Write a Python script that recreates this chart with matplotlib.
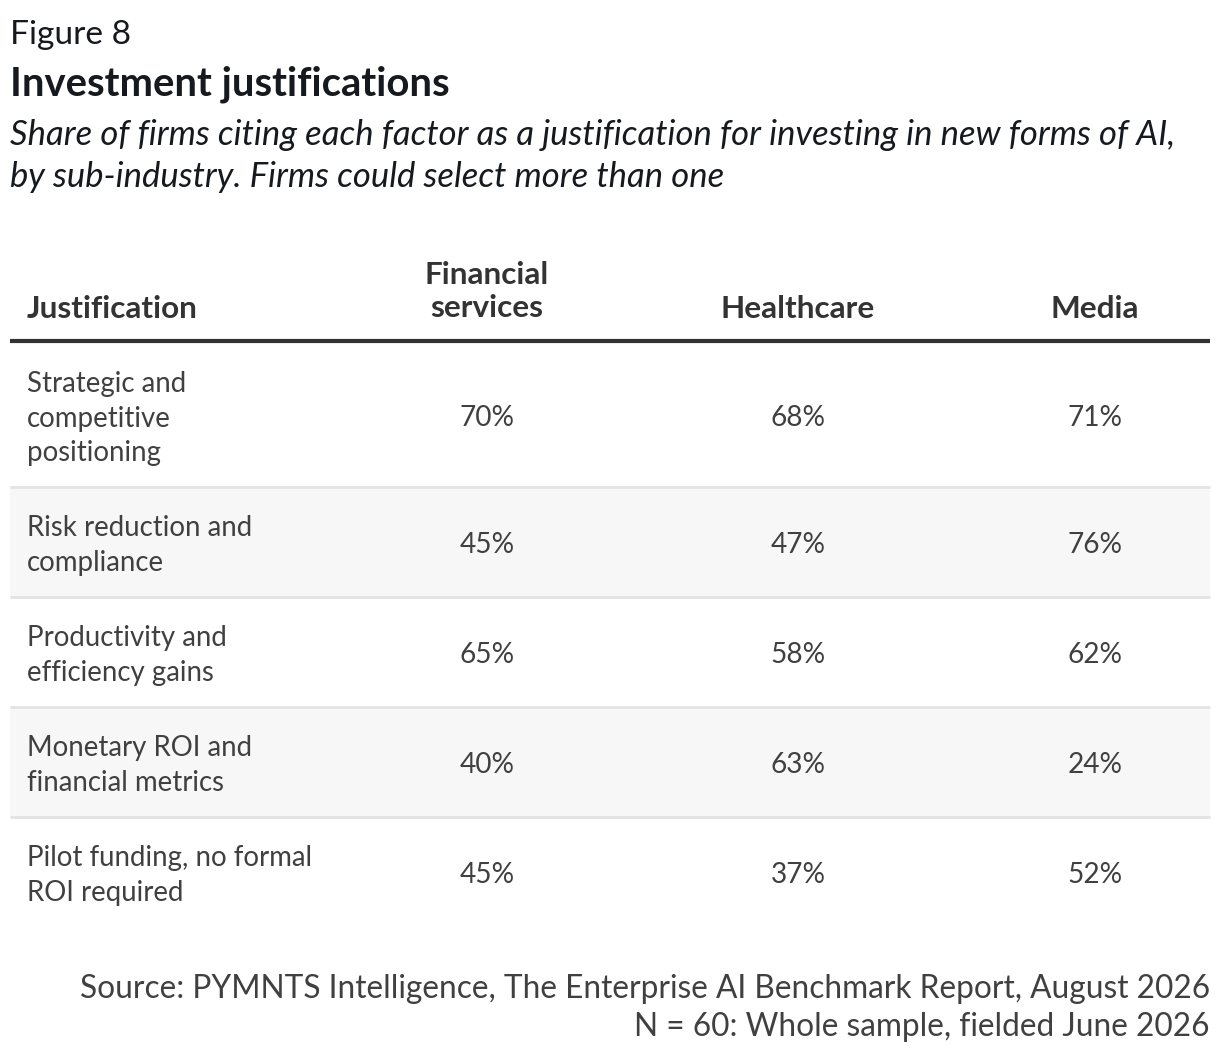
import matplotlib.pyplot as plt
from matplotlib.patches import Rectangle

plt.rcParams['font.family'] = ['Lato', 'DejaVu Sans']

# table content
columns = ["Financial\nservices", "Healthcare", "Media"]
justifications = [
    "Strategic and\ncompetitive\npositioning",
    "Risk reduction and\ncompliance",
    "Productivity and\nefficiency gains",
    "Monetary ROI and\nfinancial metrics",
    "Pilot funding, no formal\nROI required",
]
financial = [70, 45, 65, 40, 45]
healthcare = [68, 47, 58, 63, 37]
media = [71, 76, 62, 24, 52]

W, H = 1220, 1054
fig = plt.figure(figsize=(W / 100, H / 100), dpi=100)
ax = fig.add_axes([0, 0, 1, 1])
ax.set_xlim(0, W)
ax.set_ylim(H, 0)
ax.axis("off")

def px(v):
    return v * 0.72

# heading
ax.text(10, 35, "Figure 8", fontsize=px(33.5), color="#161a1f", va="center", ha="left")
ax.text(10, 84, "Investment justifications", fontsize=px(40), fontweight="bold",
        color="#161a1f", va="center", ha="left")
ax.text(10, 156, "Share of firms citing each factor as a justification for investing in new forms of AI,\n"
        "by sub-industry. Firms could select more than one",
        fontsize=px(34.6), style="italic", color="#161a1f", va="center", ha="left", linespacing=1.41)

# table geometry
left, right = 10, 1210
col_x = [487, 798, 1095]
header_line = 341
row_h = [146, 110, 110, 110, 110]
head_col = "#333333"
body_col = "#404040"

ax.text(27, 309, "Justification", fontsize=px(31.5), fontweight="bold", color=head_col,
        va="center", ha="left")
for x, c in zip(col_x, columns):
    yc = 309 if "\n" not in c else 291.5
    ax.text(x, yc, c, fontsize=px(31.5), fontweight="bold", color=head_col,
            va="center", ha="center", linespacing=1.24)
ax.plot([left, right], [header_line, header_line], color="#333333", lw=3, solid_capstyle="butt")

y0 = header_line + 2
for i, label in enumerate(justifications):
    h = row_h[i] if i > 0 else row_h[0] - 2
    if i % 2 == 1:
        ax.add_patch(Rectangle((left, y0), right - left, h, facecolor="#f7f7f7", edgecolor="none"))
    if i > 0:
        ax.plot([left, right], [y0, y0], color="#e3e3e3", lw=2, solid_capstyle="butt")
    yc = y0 + h / 2
    ax.text(27, yc + 3.5, label, fontsize=px(27.6), color=body_col, va="center", ha="left",
            linespacing=1.39)
    for x, vals in zip(col_x, [financial, healthcare, media]):
        ax.text(x, yc + 3, f"{vals[i]}%", fontsize=px(28), color=body_col, va="center", ha="center")
    y0 += h

# source
ax.text(1210, 989, "Source: PYMNTS Intelligence, The Enterprise AI Benchmark Report, August 2026",
        fontsize=px(31.7), color=body_col, va="center", ha="right")
ax.text(1210, 1027, "N = 60: Whole sample, fielded June 2026",
        fontsize=px(31.7), color=body_col, va="center", ha="right")

fig.savefig("out.png", dpi=100, facecolor="white")
